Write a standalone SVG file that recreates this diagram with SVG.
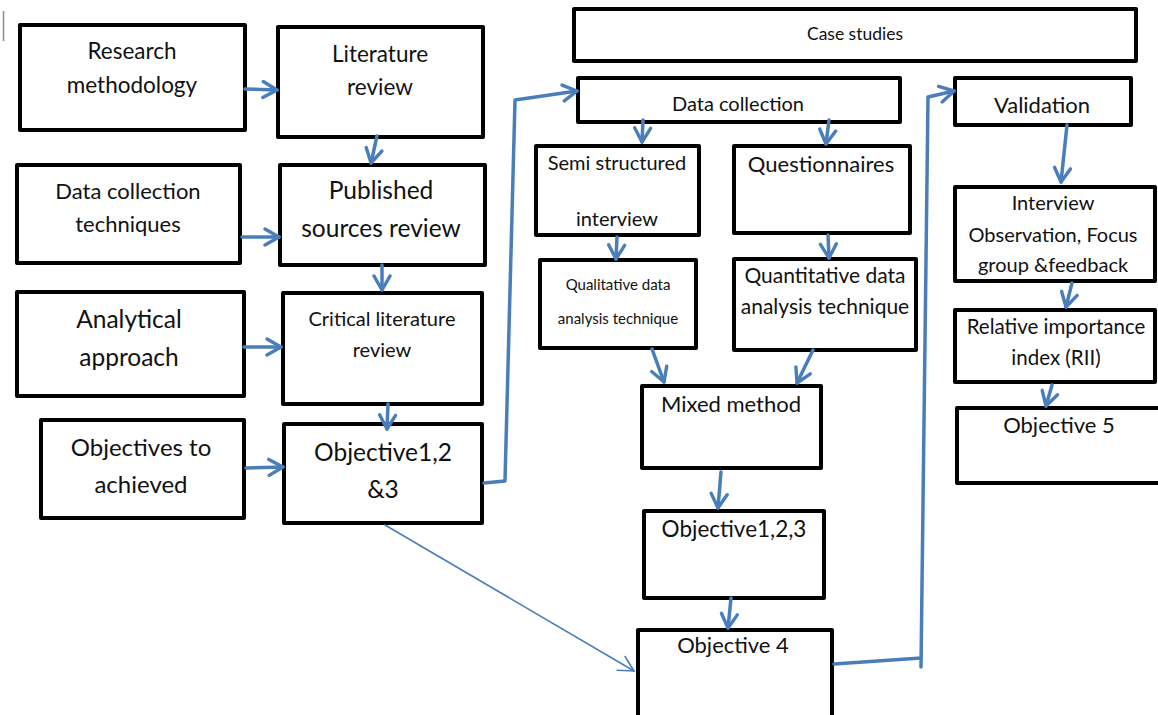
<svg xmlns="http://www.w3.org/2000/svg" width="1158" height="715" viewBox="0 0 1158 715">
  <style>
    .box { fill: #ffffff; stroke: #000000; stroke-width: 4; stroke-linejoin: round; }
    text { font-family: Lato, "Liberation Sans", sans-serif; fill: #111111; text-anchor: middle; }
    .conn { fill: none; stroke: #4a7ebb; stroke-width: 3.5; stroke-linecap: round; stroke-linejoin: round; }
    .thin { fill: none; stroke: #4a7ebb; stroke-width: 1.6; stroke-linecap: round; }
  </style>
  <defs>
    <marker id="arrow" markerUnits="userSpaceOnUse" viewBox="0 0 20 20" markerWidth="20" markerHeight="20" refX="17" refY="10" orient="auto">
      <path d="M3,2 L17,10 L3,18" fill="none" stroke="#4a7ebb" stroke-width="3.4" stroke-linecap="round" stroke-linejoin="round"/>
    </marker>
    <marker id="arrowThin" markerUnits="userSpaceOnUse" viewBox="0 0 20 20" markerWidth="20" markerHeight="20" refX="17" refY="10" orient="auto">
      <path d="M2,2 L17,10 L2,18" fill="none" stroke="#4a7ebb" stroke-width="1.6" stroke-linecap="round"/>
    </marker>
  </defs>

  <rect width="1158" height="715" fill="#ffffff"/>
  <line x1="3.5" y1="11" x2="3.5" y2="41" stroke="#8c8c8c" stroke-width="1.5"/>

  <!-- left column -->
  <g id="research-methodology">
    <rect class="box" x="20" y="25" width="225" height="105"/>
    <text x="132" y="59" font-size="22.5">Research</text>
    <text x="132" y="93" font-size="22.5">methodology</text>
  </g>
  <g id="literature-review">
    <rect class="box" x="278" y="27" width="205" height="110"/>
    <text x="380" y="62" font-size="22.5">Literature</text>
    <text x="380" y="95" font-size="22.5">review</text>
  </g>
  <g id="data-collection-techniques">
    <rect class="box" x="17" y="165" width="223" height="98"/>
    <text x="128" y="199" font-size="22">Data collection</text>
    <text x="128" y="232" font-size="22">techniques</text>
  </g>
  <g id="published-sources-review">
    <rect class="box" x="280" y="165" width="205" height="100"/>
    <text x="381" y="199" font-size="24.5">Published</text>
    <text x="381" y="237" font-size="24.5">sources review</text>
  </g>
  <g id="analytical-approach">
    <rect class="box" x="17" y="292" width="227" height="104"/>
    <text x="129" y="328" font-size="24.5">Analytical</text>
    <text x="129" y="366" font-size="24.5">approach</text>
  </g>
  <g id="critical-literature-review">
    <rect class="box" x="283" y="293" width="199" height="111"/>
    <text x="382" y="326" font-size="20">Critical literature</text>
    <text x="382" y="357" font-size="20">review</text>
  </g>
  <g id="objectives-to-achieved">
    <rect class="box" x="41" y="420" width="203" height="98"/>
    <text x="141" y="456" font-size="24">Objectives to</text>
    <text x="141" y="493" font-size="24">achieved</text>
  </g>
  <g id="objective-123-a">
    <rect class="box" x="284" y="424" width="198" height="99"/>
    <text x="383" y="461" font-size="24.5">Objective1,2</text>
    <text x="383" y="498" font-size="24.5">&amp;3</text>
  </g>

  <!-- middle column -->
  <g id="case-studies">
    <rect class="box" x="574" y="9" width="562" height="52"/>
    <text x="855" y="40" font-size="17.5">Case studies</text>
  </g>
  <g id="data-collection">
    <rect class="box" x="578" y="78" width="322" height="44"/>
    <text x="738" y="111" font-size="20">Data collection</text>
  </g>
  <g id="semi-structured-interview">
    <rect class="box" x="536" y="146" width="163" height="89"/>
    <text x="617" y="170" font-size="20">Semi structured</text>
    <text x="617" y="226" font-size="20">interview</text>
  </g>
  <g id="questionnaires">
    <rect class="box" x="734" y="146" width="176" height="87"/>
    <text x="821" y="172" font-size="22">Questionnaires</text>
  </g>
  <g id="qualitative-analysis">
    <rect class="box" x="540" y="260" width="156" height="88"/>
    <text x="618" y="290" font-size="15">Qualitative data</text>
    <text x="618" y="324" font-size="15">analysis technique</text>
  </g>
  <g id="quantitative-analysis">
    <rect class="box" x="734" y="259" width="182" height="91"/>
    <text x="825" y="283" font-size="21">Quantitative data</text>
    <text x="825" y="314" font-size="21">analysis technique</text>
  </g>
  <g id="mixed-method">
    <rect class="box" x="642" y="386" width="179" height="82"/>
    <text x="731" y="412" font-size="22">Mixed method</text>
  </g>
  <g id="objective-123-b">
    <rect class="box" x="644" y="511" width="180" height="87"/>
    <text x="734" y="537" font-size="22.5">Objective1,2,3</text>
  </g>
  <g id="objective-4">
    <rect class="box" x="638" y="630" width="194" height="90"/>
    <text x="733" y="653" font-size="22">Objective 4</text>
  </g>

  <!-- right column -->
  <g id="validation">
    <rect class="box" x="955" y="78" width="176" height="47"/>
    <text x="1042" y="113" font-size="22">Validation</text>
  </g>
  <g id="interview-observation">
    <rect class="box" x="955" y="187" width="200" height="94"/>
    <text x="1053" y="210" font-size="20">Interview</text>
    <text x="1053" y="242" font-size="20">Observation, Focus</text>
    <text x="1053" y="272" font-size="20">group &amp;feedback</text>
  </g>
  <g id="relative-importance-index">
    <rect class="box" x="955" y="310" width="200" height="72"/>
    <text x="1056" y="334" font-size="20.5">Relative importance</text>
    <text x="1056" y="365" font-size="20.5">index (RII)</text>
  </g>
  <g id="objective-5">
    <rect class="box" x="957" y="408" width="210" height="75"/>
    <text x="1059" y="433" font-size="22">Objective 5</text>
  </g>

  <!-- connectors -->
  <g id="connectors">
    <line class="conn" x1="245" y1="89" x2="277" y2="90" marker-end="url(#arrow)"/>
    <line class="conn" x1="377" y1="136" x2="371" y2="163" marker-end="url(#arrow)"/>
    <line class="conn" x1="242" y1="237" x2="279" y2="237" marker-end="url(#arrow)"/>
    <line class="conn" x1="382" y1="265" x2="382" y2="290" marker-end="url(#arrow)"/>
    <line class="conn" x1="244" y1="347" x2="281" y2="347" marker-end="url(#arrow)"/>
    <line class="conn" x1="388" y1="404" x2="387" y2="429" marker-end="url(#arrow)"/>
    <line class="conn" x1="246" y1="468" x2="283" y2="467" marker-end="url(#arrow)"/>
    <polyline class="conn" points="484,483 505,481 515,100 577,91" marker-end="url(#arrow)"/>
    <line class="conn" x1="643" y1="120" x2="642" y2="142" marker-end="url(#arrow)"/>
    <line class="conn" x1="829" y1="120" x2="826" y2="144" marker-end="url(#arrow)"/>
    <line class="conn" x1="617" y1="237" x2="616" y2="259" marker-end="url(#arrow)"/>
    <line class="conn" x1="828" y1="235" x2="829" y2="258" marker-end="url(#arrow)"/>
    <line class="conn" x1="652" y1="349" x2="664" y2="382" marker-end="url(#arrow)"/>
    <line class="conn" x1="813" y1="350" x2="797" y2="383" marker-end="url(#arrow)"/>
    <line class="conn" x1="721" y1="472" x2="718" y2="508" marker-end="url(#arrow)"/>
    <line class="conn" x1="731" y1="598" x2="728" y2="628" marker-end="url(#arrow)"/>
    <line class="thin" x1="385" y1="525" x2="634" y2="671" marker-end="url(#arrowThin)"/>
    <polyline class="conn" points="834,664 921,658"/>
    <polyline class="conn" points="921,667 928,97 954,91" marker-end="url(#arrow)"/>
    <line class="conn" x1="1067" y1="125" x2="1061" y2="182" marker-end="url(#arrow)"/>
    <line class="conn" x1="1072" y1="283" x2="1066" y2="307" marker-end="url(#arrow)"/>
    <line class="conn" x1="1052" y1="385" x2="1046" y2="406" marker-end="url(#arrow)"/>
  </g>
</svg>
